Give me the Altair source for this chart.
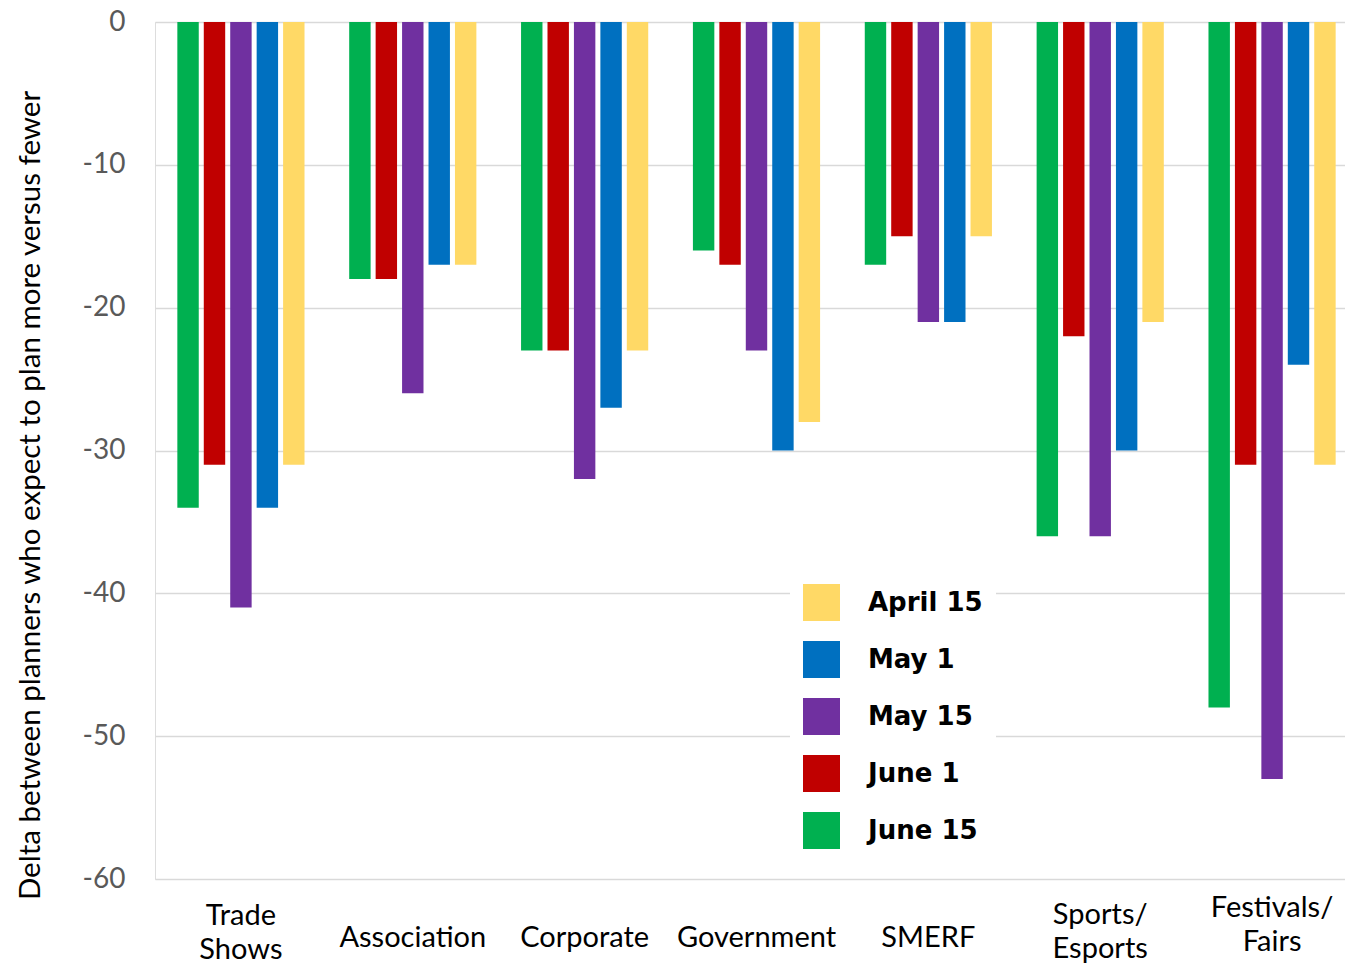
import altair as alt
import pandas as pd

categories = ["Trade Shows", "Association", "Corporate", "Government", "SMERF",
              "Sports/Esports", "Festivals/Fairs"]
series = ["June 15", "June 1", "May 15", "May 1", "April 15"]
legend_order = ["April 15", "May 1", "May 15", "June 1", "June 15"]
colors = {"April 15": "#FFD966", "May 1": "#0070C0", "May 15": "#7030A0",
          "June 1": "#C00000", "June 15": "#00B050"}

june15 = [-34, -18, -23, -16, -17, -36, -48]
june1 = [-31, -18, -23, -17, -15, -22, -31]
may15 = [-41, -26, -32, -23, -21, -36, -53]
may1 = [-34, -17, -27, -30, -21, -30, -24]
april15 = [-31, -17, -23, -28, -15, -21, -31]

values = {"June 15": june15, "June 1": june1, "May 15": may15,
          "May 1": may1, "April 15": april15}

rows = []
for s in series:
    for c, v in zip(categories, values[s]):
        rows.append({"category": c, "series": s, "value": v})
df = pd.DataFrame(rows)

label_expr = (
    "datum.label == 'Trade Shows' ? ['Trade', 'Shows'] : "
    "indexof(datum.label, '/') > 0 ? [split(datum.label, '/')[0] + '/', split(datum.label, '/')[1]] : "
    "datum.label"
)

x_label_padding = {
    "condition": [
        {"test": "datum.value == 'Trade Shows'", "value": 22},
        {"test": "datum.value == 'Sports/Esports'", "value": 21},
        {"test": "datum.value == 'Festivals/Fairs'", "value": 14},
    ],
    "value": 44,
}

chart = alt.Chart(df).mark_bar().encode(
    x=alt.X("category:N", sort=categories,
            scale=alt.Scale(paddingInner=0.26, paddingOuter=0.13, range=[0, 1203]),
            axis=alt.Axis(title=None, labelExpr=label_expr, labelAngle=0,
                          labelFont="Lato", labelFontSize=29, labelColor="#000000",
                          labelBaseline="top", labelPadding=x_label_padding,
                          labelLineHeight=34,
                          ticks=False, domain=False, grid=False)),
    xOffset=alt.XOffset("series:N", sort=series,
                        scale=alt.Scale(paddingInner=0.19, paddingOuter=0.0)),
    y=alt.Y("value:Q",
            scale=alt.Scale(domain=[-60, 0], nice=False),
            axis=alt.Axis(title="Delta between planners who expect to plan more versus fewer",
                          values=[0, -10, -20, -30, -40, -50, -60],
                          labelExpr="'' + datum.value",
                          labelFont="Lato", labelFontSize=28, labelColor="#595959",
                          labelPadding=30, ticks=False, domain=False,
                          gridColor="#D9D9D9", gridWidth=1.5,
                          titleFont="Lato", titleFontSize=29.5, titleColor="#000000",
                          titleFontWeight="normal", titleX=-125, titleY=473,
                          titleBaseline="middle", titleAlign="center", titleAngle=-90)),
    color=alt.Color("series:N",
                    scale=alt.Scale(domain=legend_order,
                                    range=[colors[s] for s in legend_order]),
                    legend=alt.Legend(title=None, orient="none", legendX=635, legendY=549,
                                      padding=13, fillColor="#FFFFFF",
                                      symbolType="square", symbolSize=1369,
                                      symbolStrokeWidth=0, symbolOpacity=1,
                                      labelFont="DejaVu Sans", labelFontWeight="bold",
                                      labelFontSize=26, labelColor="#000000",
                                      labelOffset=28, rowPadding=20)),
).properties(
    width=1190, height=857,
    autosize=alt.AutoSizeParams(type="none"),
    padding={"left": 155, "top": 22, "right": 0, "bottom": 87},
)

chart = chart.configure_view(stroke=None).configure(background="#FFFFFF")

chart.save("out.html", embed_options={"renderer": "svg", "actions": False})
